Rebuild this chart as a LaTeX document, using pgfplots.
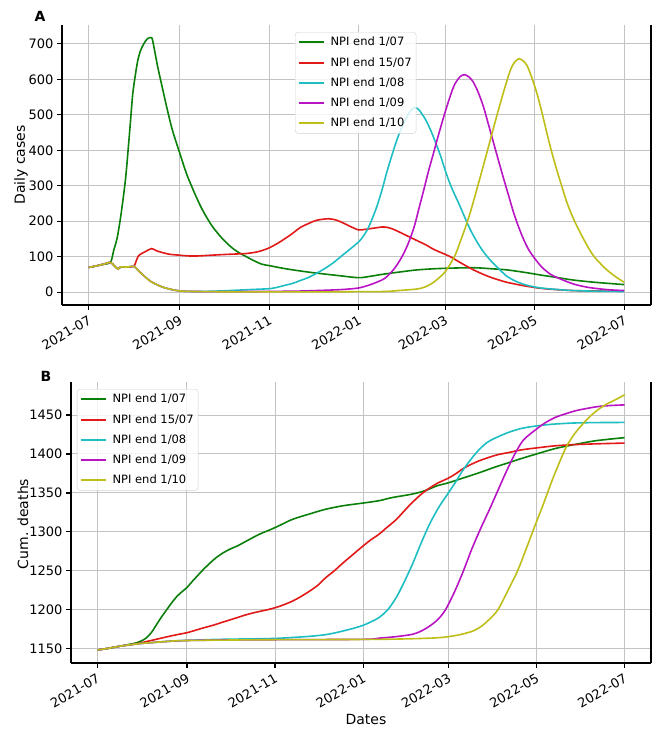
\documentclass[border=0pt]{standalone}
\usepackage{fontspec}
\setmainfont{DejaVu Sans}
\usepackage{pgfplots}
\pgfplotsset{compat=1.18}

\definecolor{colG}{RGB}{10,128,10}
\definecolor{colR}{RGB}{225,25,25}
\definecolor{colC}{RGB}{30,190,195}
\definecolor{colM}{RGB}{185,20,195}
\definecolor{colY}{RGB}{190,190,25}
\definecolor{gridc}{RGB}{195,195,195}
\definecolor{legc}{RGB}{210,210,210}

\newcommand\tickfont{\fontsize{13}{15}\selectfont}
\newcommand\labfont{\fontsize{14}{16}\selectfont}
\newcommand\legfont{\fontsize{11.5}{13}\selectfont}

\pgfplotsset{
  panel/.style={
    scale only axis,
    xmin=-18.25, xmax=383.25,
    axis x line*=bottom, axis y line*=left,
    axis line style={line width=1.4pt,-},
    tick align=outside, major tick length=5pt,
    tick style={black,line width=1.2pt},
    xtick={0,62,123,184,243,304,365},
    xticklabels={2021-07,2021-09,2021-11,2022-01,2022-03,2022-05,2022-07},
    xticklabel style={rotate=30,anchor=north east,font=\tickfont},
    yticklabel style={font=\tickfont},
    /pgf/number format/1000 sep={},
    /pgf/number format/assume math mode=true,
    grid=major,
    major grid style={line width=1pt,color=gridc},
    clip mode=individual,
    legend cell align=left,
    legend image code/.code={\draw[##1,line width=1.9pt] (0pt,0pt) -- (25pt,0pt);},
    legend style={draw=legc,rounded corners=3pt,fill=white,fill opacity=0.8,
      text opacity=1,draw opacity=1,font=\legfont,inner xsep=2.5pt,inner ysep=3pt,
      nodes={inner sep=2pt},row sep=6pt,
      /tikz/every odd column/.append style={column sep=4pt}},
    every axis plot/.append style={line width=1.6pt,smooth,tension=0.5},
  }
}

\begin{document}
\begin{tikzpicture}
\useasboundingbox (0,0) rectangle (655pt,-729pt);

% ---- A: daily cases
\begin{axis}[panel, at={(62pt,-305pt)}, anchor=south west,
  width=589pt, height=280pt, ymin=-36, ymax=753, ytick={0,100,...,700},
  legend style={at={(0.3956,0.975)},anchor=north west}]
\addplot[colG] coordinates {(0,70)(5,74)(10,79)(14.8,84)(17,118)(19.4,154)(22,220)(25,317)(27,410)(28.5,485)(30,560)(31.9,616)(33.5,655)(35.3,681)(37.5,700)(39.9,714)(42.9,717)(44.4,691)(47,635)(50,579)(53.5,515)(57,457)(62,392)(67,330)(73,271)(78,228)(84,187)(90,156)(96,131)(101,115)(107,101)(113,88)(118,79)(123,75)(133,67)(144,60)(155,54)(170,47)(184,41)(192,45)(201,51)(212,57)(224,63)(240,67)(262,69)(275,66)(285,63)(297,56)(308,48.5)(320,41)(330,34.5)(345,28)(365,21.5)};
\addplot[colR] coordinates {(0,70)(5,74)(10,79)(14.8,84)(17.5,74)(20,65)(21.6,71)(27,71)(30.8,73)(32.5,90)(34,103)(36.5,110)(38.8,115)(42.9,123)(46,117)(50,112)(55,107)(61.5,104.5)(67,102.5)(73,102)(84,104.5)(96,107)(107,109)(114,113)(118.5,118)(123,125)(128,136)(133,149)(139,166)(144,182)(150,194)(155.5,203)(163.5,207)(169,203)(174,194)(179,184)(184,175.5)(188,177)(195,181)(201,184)(206,180)(212.5,168)(218,157)(224,145)(230,133)(235,121)(240,112)(246.5,100)(251,89)(256,77)(262,63.5)(268,52)(274,42)(280,34)(285,28)(296,18.7)(308,11)(320,7)(330,4.7)(345,3.5)(365,3)};
\addplot[colC] coordinates {(0,70)(5,74)(10,79)(14.8,84)(17.5,74)(20,65)(21.6,71)(27,71)(30.8,73)(34,60)(38.8,42)(42,31)(45.6,23)(50,15)(54.7,9.3)(62,3.7)(73,2)(85,3)(96,4.7)(110,7.5)(123,10)(128,13.5)(133,18.7)(139,25)(144,32.7)(150,42)(155.5,54)(161,67)(167,84)(172,101)(178,121)(184,142)(187,157)(190,177)(193,205)(196.5,243)(200,290)(203,336)(206.5,384)(210,429)(213.5,466)(217,495)(219.5,512)(222,520)(224,518)(226,509)(229.5,487)(233,457)(236.5,421)(240,382)(243,343)(246.5,303)(250,270)(253,243)(256.5,209)(260,177)(263.5,150)(267,126)(270.5,106)(274,89)(280,64)(285,45)(290,33)(296,23)(302,16.5)(308,12)(320,7.5)(330,4.7)(345,3)(365,2)};
\addplot[colM] coordinates {(0,70)(5,74)(10,79)(14.8,84)(17.5,74)(20,65)(21.6,71)(27,71)(30.8,73)(34,60)(38.8,42)(42,31)(45.6,23)(50,15)(54.7,9.3)(62,3.7)(73,2)(110,2)(140,3)(155,4.7)(170,7)(178,9.3)(184,12)(190,18.7)(195,26)(201,37)(204.5,49)(208,65)(211.5,86)(215,112)(218.5,145)(222,187)(225,235)(228.4,289)(231.5,340)(235,392)(238.5,445)(242,495)(245,535)(248,572)(250,590)(253,607)(256,613)(259,607)(262,593)(265.5,563)(269,523)(272.5,472)(276,420)(279.5,368)(283,317)(286.5,268)(289.6,224)(293,184)(296.4,149)(300,119)(304.4,93)(309,70)(314.6,51)(320,40)(330.5,23)(340,14)(348.7,9.3)(356,6.5)(365,4.7)};
\addplot[colY] coordinates {(0,70)(5,74)(10,79)(14.8,84)(17.5,74)(20,65)(21.6,71)(27,71)(30.8,73)(34,60)(38.8,42)(42,31)(45.6,23)(50,15)(54.7,9.3)(62,3.7)(73,2)(110,1)(150,1)(180,1.5)(201,2)(212,5)(224,9.3)(230,16)(235,28)(240,45)(243,58)(246.5,80)(250,107)(253,140)(256.5,180)(260,224)(263.5,275)(267,327)(270.5,380)(273.7,429)(277,480)(280.5,532)(284,582)(287.3,625)(290,647)(293.2,658)(296,652)(298.7,639)(302,605)(305.5,560)(309,505)(312.3,448)(315.5,396)(319,345)(322.5,298)(326,252)(330.5,206)(335,168)(339.5,133)(344,103)(348.5,82)(353,63.5)(359,44)(365,28)};
\legend{NPI end 1/07,NPI end 15/07,NPI end 1/08,NPI end 1/09,NPI end 1/10}
\draw[line width=1.4pt] (rel axis cs:1,0) -- (rel axis cs:1,1);
\end{axis}

% ---- B: cumulative deaths
\begin{axis}[panel, at={(71pt,-663pt)}, anchor=south west,
  width=580pt, height=281pt, ymin=1131.6, ymax=1492.4, ytick={1150,1200,...,1450},
  legend style={at={(0.0103,0.975)},anchor=north west}]
\addplot[colG] coordinates {(0,1148.3)(8,1150.6)(15,1153)(22,1155.5)(27,1157.5)(31,1160.5)(34,1164)(37.5,1171)(41,1181)(44.5,1191)(48,1200)(51.5,1209)(55,1217)(58.5,1223)(62,1228.5)(66,1237)(69,1243)(73,1251)(78,1260)(82,1266.5)(87,1273)(92,1278)(97,1282)(102,1287)(108,1293)(114,1298.5)(120,1303)(127,1309)(135,1316)(146,1322.5)(158,1329)(170,1333.5)(184,1337)(195,1340)(204,1344)(218,1348.5)(227,1353)(235,1359)(243,1363)(253,1369)(266,1377)(275,1383)(285,1389)(295,1395)(304,1400)(317,1407)(330,1412)(345,1417)(365,1421)};
\addplot[colR] coordinates {(0,1148.3)(8,1150.6)(15,1153)(25,1155.6)(30,1157.5)(36,1160)(43,1163)(50,1166)(56,1168.3)(62,1170.5)(68,1173.7)(74,1177)(80,1180)(85,1183)(91,1186.5)(97,1190)(102,1193)(108,1196)(114,1198.5)(120,1201)(127,1205)(135,1211)(141,1217)(147,1224)(153,1232)(158,1241)(164,1250)(170,1260)(177,1271)(184,1282)(189.5,1290)(195,1297)(200,1305)(207,1316)(215,1332)(221,1343)(227,1352.5)(235,1362)(243,1369)(248,1374.5)(253,1381)(258,1386)(264,1391)(270,1395)(277,1399)(285,1402)(294,1405.4)(305,1408)(317,1410.5)(330,1412)(345,1413)(365,1414)};
\addplot[colC] coordinates {(0,1148.3)(8,1150.6)(15,1153)(25,1155.6)(32,1157)(39,1158)(50,1159.5)(62,1160.7)(85,1162)(120,1163)(136,1164.5)(148,1166)(158,1168)(165,1170.5)(170,1172.7)(177,1176)(184,1180)(190,1185)(195,1190)(201,1200)(207,1216)(212.5,1236)(218,1258)(224,1285)(230,1310)(236.5,1332)(243,1350)(248,1364)(253,1379)(258.5,1393)(264.5,1406)(270,1415)(276,1421)(285,1428)(294,1433)(304,1436)(315,1438.2)(329,1439.7)(345,1440.3)(365,1440.5)};
\addplot[colM] coordinates {(0,1148.3)(8,1150.6)(15,1153)(25,1155.6)(32,1157)(39,1158)(50,1159.5)(62,1160.5)(90,1161.2)(120,1161.5)(184,1162)(195,1163.5)(207,1165.5)(218,1168.4)(224,1172.5)(230,1179)(236,1188)(241,1200)(247,1222)(253,1248)(259,1277)(265,1303)(271,1327)(277,1352)(283,1377)(289,1400)(295,1418)(304,1432)(310,1440)(317,1447)(324,1451.5)(331,1455.5)(339,1458.5)(347,1461)(356,1462.3)(365,1463)};
\addplot[colY] coordinates {(0,1148.3)(8,1150.6)(15,1153)(25,1155.6)(32,1157)(39,1158)(50,1159.5)(62,1160.5)(120,1161.5)(195,1162)(230,1163.5)(243,1165.4)(252,1168.5)(260,1172.7)(266,1179)(271.5,1188)(277.3,1200)(284,1224)(290.9,1250)(296,1274)(301.3,1300)(304,1313)(308,1332)(311.6,1350)(315,1367)(318.5,1383)(324.3,1408)(330,1425)(335.8,1438)(341.5,1449)(347.4,1458)(353,1464.5)(359,1470)(365,1476)};
\legend{NPI end 1/07,NPI end 15/07,NPI end 1/08,NPI end 1/09,NPI end 1/10}
\draw[line width=1.4pt] (rel axis cs:1,0) -- (rel axis cs:1,1);
\end{axis}

\node[font=\bfseries\labfont] at (40pt,-16pt) {A};
\node[font=\bfseries\labfont] at (46pt,-376pt) {B};
\node[rotate=90,font=\labfont] at (21pt,-165pt) {Daily cases};
\node[rotate=90,font=\labfont] at (23pt,-524pt) {Cum. deaths};
\node[font=\labfont] at (366pt,-719pt) {Dates};
\end{tikzpicture}
\end{document}
